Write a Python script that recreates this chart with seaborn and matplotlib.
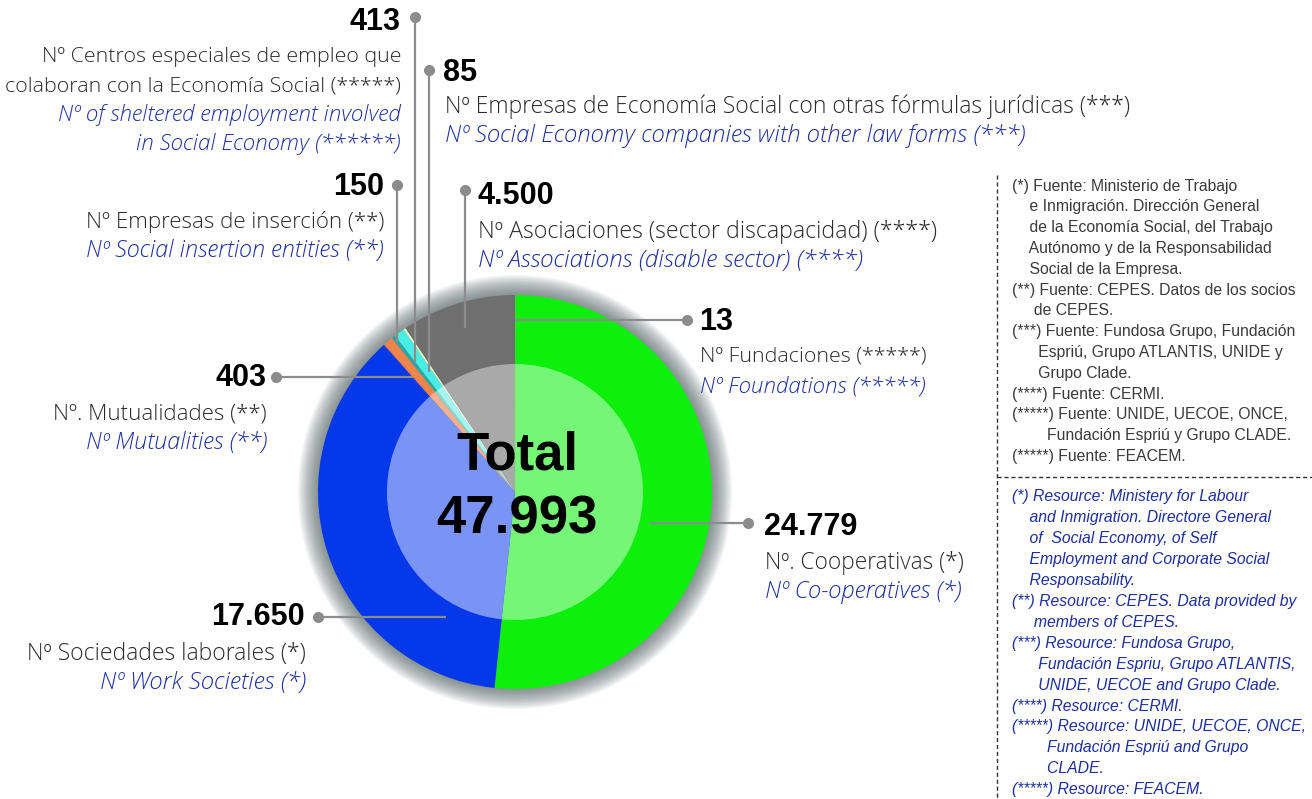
import matplotlib
matplotlib.use("Agg")
import matplotlib.pyplot as plt
from matplotlib.patches import Circle
import seaborn as sns

sns.set_theme(style="white")
plt.rcParams['font.family'] = ['Liberation Sans', 'DejaVu Sans']

# ---------------- data ----------------
categories = ["Fundaciones", "Cooperativas", "Sociedades laborales", "Mutualidades",
              "Empresas de inserción", "Centros especiales de empleo",
              "Empresas otras fórmulas jurídicas", "Asociaciones"]
values = [13, 24779, 17650, 403, 150, 413, 85, 4500]
value_labels = ["13", "24.779", "17.650", "403", "150", "413", "85", "4.500"]
total_label = "47.993"
outer_colors = ["#f08a4b", "#0cf00c", "#0438e8", "#f0844a", "#2aa7a0", "#48eee6", "#fbf6bc", "#6f6f6f"]
inner_colors = ["#f5b48e", "#76f676", "#7a94f6", "#f5b08f", "#8cd5d0", "#a6f5f1", "#fdfbe4", "#a9a9a9"]

spanish = {
    "Fundaciones": ["Nº Fundaciones (*****)"],
    "Cooperativas": ["Nº. Cooperativas (*)"],
    "Sociedades laborales": ["Nº Sociedades laborales (*)"],
    "Mutualidades": ["Nº. Mutualidades (**)"],
    "Empresas de inserción": ["Nº Empresas de inserción (**)"],
    "Centros especiales de empleo": ["Nº Centros especiales de empleo que",
                                     "colaboran con la Economía Social (*****)"],
    "Empresas otras fórmulas jurídicas": ["Nº Empresas de Economía Social con otras fórmulas jurídicas (***)"],
    "Asociaciones": ["Nº Asociaciones (sector discapacidad) (****)"],
}
english = {
    "Fundaciones": ["Nº Foundations (*****)"],
    "Cooperativas": ["Nº Co-operatives (*)"],
    "Sociedades laborales": ["Nº Work Societies (*)"],
    "Mutualidades": ["Nº Mutualities (**)"],
    "Empresas de inserción": ["Nº Social insertion entities (**)"],
    "Centros especiales de empleo": ["Nº of sheltered employment involved",
                                     "in Social Economy (******)"],
    "Empresas otras fórmulas jurídicas": ["Nº Social Economy companies with other law forms (***)"],
    "Asociaciones": ["Nº Associations (disable sector) (****)"],
}

notes_es = [
    "(*) Fuente: Ministerio de Trabajo",
    "    e Inmigración. Dirección General",
    "    de la Economía Social, del Trabajo",
    "    Autónomo y de la Responsabilidad",
    "    Social de la Empresa.",
    "(**) Fuente: CEPES. Datos de los socios",
    "     de CEPES.",
    "(***) Fuente: Fundosa Grupo, Fundación",
    "      Espriú, Grupo ATLANTIS, UNIDE y",
    "      Grupo Clade.",
    "(****) Fuente: CERMI.",
    "(*****) Fuente: UNIDE, UECOE, ONCE,",
    "        Fundación Espriú y Grupo CLADE.",
    "(*****) Fuente: FEACEM.",
]
notes_en = [
    "(*) Resource: Ministery for Labour",
    "    and Inmigration. Directore General",
    "    of  Social Economy, of Self",
    "    Employment and Corporate Social",
    "    Responsability.",
    "(**) Resource: CEPES. Data provided by",
    "     members of CEPES.",
    "(***) Resource: Fundosa Grupo,",
    "      Fundación Espriu, Grupo ATLANTIS,",
    "      UNIDE, UECOE and Grupo Clade.",
    "(****) Resource: CERMI.",
    "(*****) Resource: UNIDE, UECOE, ONCE,",
    "        Fundación Espriú and Grupo",
    "        CLADE.",
    "(*****) Resource: FEACEM.",
]

# ---------------- layout (pixel coordinates) ----------------
W, H = 1312, 799
CX, CY, R_OUT, R_IN = 515, 492, 197, 128
BLUE = "#1d2f9a"
LINE = "#8c8c8c"
TXT = "#2b2b2b"
LABEL_FONT = ['Open Sans', 'Liberation Sans', 'DejaVu Sans']
NOTE_FONT = ['Liberation Sans', 'DejaVu Sans']
NUM_FONT = ['Liberation Sans Narrow', 'Liberation Sans', 'DejaVu Sans']

# per category: (dot xy, line end xy, number anchor xy, ha, text x, first text y, size scale)
layout = {
    "Centros especiales de empleo": ((415, 17), (415, 362), (401, 22), "right", 401, 57, 0.96),
    "Empresas otras fórmulas jurídicas": ((429, 70), (429, 372), (443, 73), "left", 445, 107, 1.03),
    "Empresas de inserción": ((397, 185), (397, 343), (384, 187), "right", 384, 222, 1.0),
    "Asociaciones": ((465, 190), (465, 328), (477, 196), "left", 478, 232, 1.04),
    "Fundaciones": ((687, 320), (515, 320), (699, 322), "left", 700, 357, 0.96),
    "Mutualidades": ((276, 377), (413, 377), (266, 378), "right", 267, 414, 1.0),
    "Cooperativas": ((748, 523), (650, 523), (764, 527), "left", 765, 563, 1.02),
    "Sociedades laborales": ((318, 617), (446, 617), (305, 617), "right", 306, 654, 1.03),
}
LINE_STEP = 29
ES_SIZE, EN_SIZE = 16, 16.8

fig = plt.figure(figsize=(W / 100, H / 100), dpi=100)
ax = fig.add_axes([0, 0, 1, 1])

# soft dark halo behind the donut
for i in range(16):
    r = R_OUT + 20 - i * 1.4
    ax.add_patch(Circle((CX, CY), r, color="#4e5e5e", alpha=0.065, lw=0, zorder=0))

ax.pie(values, colors=outer_colors, radius=R_OUT, center=(CX, CY),
       startangle=-90, counterclock=True, wedgeprops=dict(linewidth=0), frame=True)
ax.pie(values, colors=inner_colors, radius=R_IN, center=(CX, CY),
       startangle=-90, counterclock=True, wedgeprops=dict(linewidth=0), frame=True)

ax.text(CX + 2, 455, "Total", ha="center", va="center", fontsize=38, fontweight="bold",
        color="black", zorder=5)
ax.text(CX + 2, 520, total_label, ha="center", va="center", fontsize=38, fontweight="bold",
        color="black", zorder=5)

for cat, val_lab in zip(categories, value_labels):
    dot, end, num_xy, ha, tx, ty, sc = layout[cat]
    ax.plot([dot[0], end[0]], [dot[1], end[1]], color=LINE, lw=1.6, zorder=4,
            solid_capstyle="butt")
    ax.plot([dot[0]], [dot[1]], "o", color=LINE, ms=7, zorder=4)
    ax.text(num_xy[0], num_xy[1], val_lab, ha=ha, va="center", fontsize=22,
            fontweight="bold", family=NUM_FONT, color="black", zorder=5)
    y = ty
    for line in spanish[cat]:
        ax.text(tx, y, line, ha=ha, va="center", fontsize=ES_SIZE * sc, fontweight="light",
                family=LABEL_FONT, color=TXT, zorder=5)
        y += LINE_STEP
    for line in english[cat]:
        ax.text(tx, y, line, ha=ha, va="center", fontsize=EN_SIZE * sc, fontweight="light",
                style="italic", family=LABEL_FONT, color=BLUE, zorder=5)
        y += LINE_STEP

# notes box
ax.plot([997, 997], [175, 799], color="#333333", lw=1, ls=(0, (3, 2)))
ax.plot([997, 1312], [477, 477], color="#333333", lw=1, ls=(0, (3, 2)))
for i, line in enumerate(notes_es):
    ax.text(1012, 186 + i * 20.8, line, ha="left", va="center", fontsize=11.3,
            family=NOTE_FONT, color="#3a3a3a")
for i, line in enumerate(notes_en):
    ax.text(1012, 497 + i * 20.9, line, ha="left", va="center", fontsize=11.3,
            style="italic", family=NOTE_FONT, color=BLUE)

ax.set_xlim(0, W)
ax.set_ylim(H, 0)
ax.set_aspect("auto")
ax.axis("off")
fig.savefig("out.png", dpi=100, facecolor="white")
